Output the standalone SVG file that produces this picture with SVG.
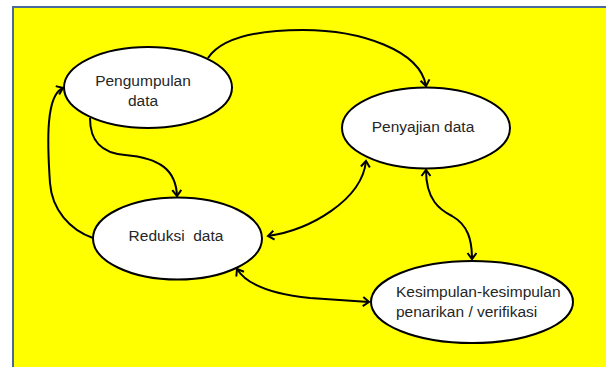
<svg xmlns="http://www.w3.org/2000/svg" width="606" height="367" viewBox="0 0 606 367">
<style>
.node ellipse{fill:#ffffff;stroke:#000000;stroke-width:2}
.node text{font-family:"Liberation Sans",Arial,sans-serif;font-size:15.5px;fill:#262626}
.conn path{fill:none;stroke:#000000;stroke-width:2}
</style>
<defs>
<marker id="arr" viewBox="-8 -6 10 12" markerWidth="10" markerHeight="12" refX="0" refY="0" orient="auto-start-reverse" markerUnits="userSpaceOnUse">
<path d="M-6,-4.5 L0,0 L-6,4.5" fill="none" stroke="#000" stroke-width="2" stroke-linejoin="miter"/>
</marker>
</defs>
<rect x="0" y="0" width="606" height="367" fill="#ffffff"/>
<rect x="13" y="7" width="600" height="370" fill="#ffff00" stroke="#4a6a9a" stroke-width="2"/>
<g class="conn">
<path d="M208,58 C220,40 250,30 303,30 C360,30 420,50 426,86" marker-end="url(#arr)"/>
<path d="M90,118 C90,140 100,153 125,155 C160,158 176,170 177,196" marker-end="url(#arr)"/>
<path d="M93,238 C70,230 52,210 50,183 C47,140 46,95 63,88" marker-end="url(#arr)"/>
<path d="M268,236 C310,230 362,200 366,161" marker-start="url(#arr)" marker-end="url(#arr)"/>
<path d="M426,170 C426,200 440,210 452,216 C468,225 472,240 472,259" marker-start="url(#arr)" marker-end="url(#arr)"/>
<path d="M237,269 C250,290 290,296 310,298 C340,300 355,301 369,302" marker-start="url(#arr)" marker-end="url(#arr)"/>
</g>
<g id="pengumpulan" class="node">
<ellipse cx="148" cy="87.5" rx="84" ry="40.5"/>
<text x="143" y="86" text-anchor="middle">Pengumpulan</text>
<text x="143" y="106" text-anchor="middle">data</text>
</g>
<g id="penyajian" class="node">
<ellipse cx="426" cy="128" rx="84" ry="40.5"/>
<text x="423" y="132" text-anchor="middle">Penyajian data</text>
</g>
<g id="reduksi" class="node">
<ellipse cx="177.5" cy="238.5" rx="84.5" ry="41"/>
<text x="176" y="241" text-anchor="middle" xml:space="preserve">Reduksi  data</text>
</g>
<g id="kesimpulan" class="node">
<ellipse cx="472" cy="302" rx="101" ry="41"/>
<text x="396" y="297">Kesimpulan-kesimpulan</text>
<text x="396" y="317">penarikan / verifikasi</text>
</g>
</svg>
